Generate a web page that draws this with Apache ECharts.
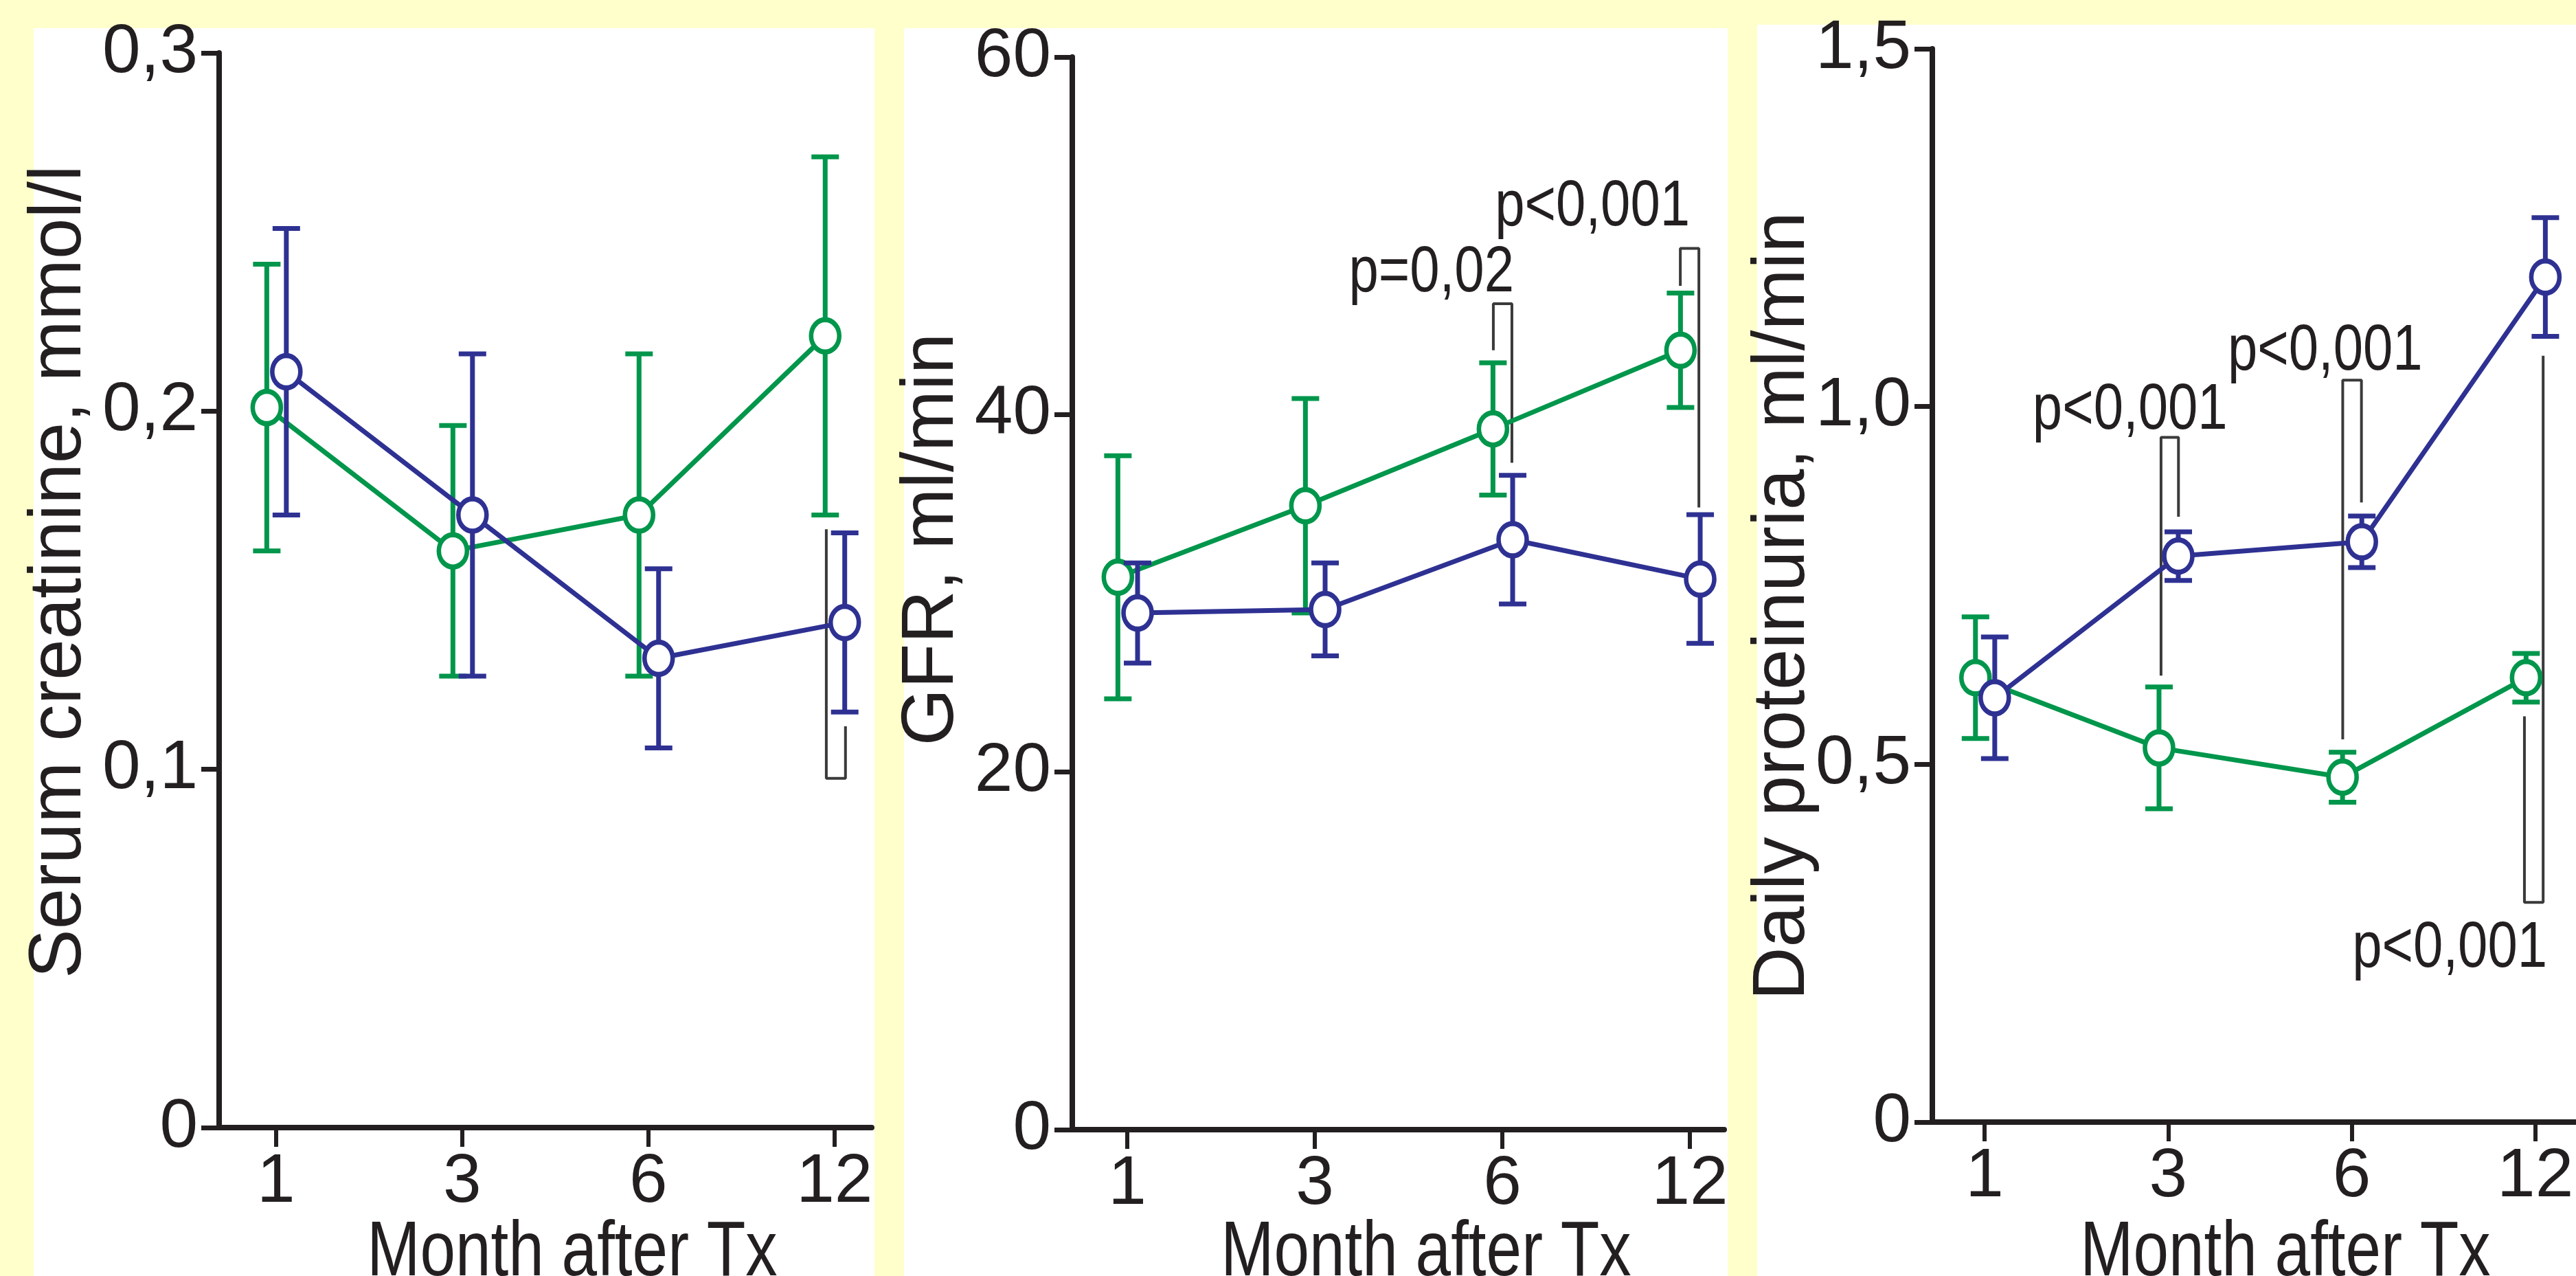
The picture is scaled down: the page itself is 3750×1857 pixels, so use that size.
<!DOCTYPE html>
<html><head><meta charset="utf-8">
<script src="https://cdn.jsdelivr.net/npm/echarts@6/dist/echarts.min.js"></script>
<style>html,body{margin:0;padding:0;background:#FFFFCC}#c{width:3750px;height:1857px}</style>
</head><body><div id="c"></div>
<script>
// ---------- data ----------
const months = ['1', '3', '6', '12'];
const monthIdx = [0, 1, 2, 3];

const creatGreen = [0.201, 0.161, 0.171, 0.221];
const creatGreenErr = [0.040, 0.035, 0.045, 0.050];
const creatBlue = [0.211, 0.171, 0.131, 0.141];
const creatBlueErr = [0.040, 0.045, 0.025, 0.025];

const gfrGreen = [30.9, 34.9, 39.2, 43.6];
const gfrGreenErr = [6.8, 6.0, 3.7, 3.2];
const gfrBlue = [28.9, 29.1, 33.0, 30.8];
const gfrBlueErr = [2.8, 2.6, 3.6, 3.6];

const protGreen = [0.621, 0.523, 0.482, 0.621];
const protGreenErr = [0.085, 0.085, 0.035, 0.034];
const protBlue = [0.593, 0.791, 0.811, 1.181];
const protBlueErr = [0.085, 0.034, 0.036, 0.083];

// significance brackets (x in month-index units, y in axis units)
const creatBracket = [[2.956, 0.167], [2.956, 0.0975], [3.059, 0.0975], [3.059, 0.112]];
const gfrBracket1 = [[1.952, 43.6], [1.952, 46.2], [2.051, 46.2], [2.051, 37.3]];
const gfrBracket2 = [[2.949, 47.2], [2.949, 49.3], [3.048, 49.3], [3.048, 34.8]];
const protBracket1 = [[0.961, 0.624], [0.961, 0.957], [1.056, 0.957], [1.056, 0.846]];
const protBracket2 = [[1.951, 0.535], [1.951, 1.037], [2.053, 1.037], [2.053, 0.866]];
const protBracket3 = [[2.941, 0.567], [2.941, 0.307], [3.043, 0.307], [3.043, 1.071]];

const gfrPTexts = ['p=0,02', 'p<0,001'];
const gfrPPos = [[2.062, 46.84], [3.0, 50.53]];
const protPTexts = ['p<0,001', 'p<0,001', 'p<0,001'];
const protPPos = [[1.323, 0.968], [2.386, 1.050], [3.065, 0.216]];

const yTitles = ['Serum creatinine, mmol/l', 'GFR, ml/min', 'Daily proteinuria, ml/min'];
const xTitle = 'Month after Tx';

// ---------- styles ----------
const GREEN = '#00964B', BLUE = '#2E3192', INK = '#231F20', BR = '#3A3A3A';
const SANS = '"Liberation Sans", Arial, sans-serif';

function fontAvailable(name) {
  const ctx = document.createElement('canvas').getContext('2d');
  const s = 'Month after Tx 0,123 p<0,001';
  ctx.font = '100px monospace'; const w1 = ctx.measureText(s).width;
  ctx.font = '100px "' + name + '", monospace'; const w2 = ctx.measureText(s).width;
  ctx.font = '100px serif'; const w3 = ctx.measureText(s).width;
  ctx.font = '100px "' + name + '", serif'; const w4 = ctx.measureText(s).width;
  return w1 !== w2 || w3 !== w4;
}
const HAS_NARROW = fontAvailable('Liberation Sans Narrow');
const NARROW = HAS_NARROW ? '"Liberation Sans Narrow", sans-serif' : SANS;
const SX = HAS_NARROW ? 1 : 0.82;           // horizontal condensing of free text
const TICK_FS = HAS_NARROW ? 114 : 100;      // tick-label font size

const GOFF = -0.05, BOFF = 0.055;
const chart = echarts.init(document.getElementById('c'), null, {renderer: 'canvas'});

function fmtDec(v) { return v === 0 ? '0' : v.toFixed(1).replace('.', ','); }

const grids = [
  {left: 319, top: 77, width: 950, height: 1564},
  {left: 1561, top: 83, width: 949, height: 1561},
  {left: 2813, top: 71, width: 960, height: 1562}
];
const xRanges = [[-0.306, 3.2], [-0.293, 3.183], [-0.285, 3.222]];
const yRanges = [[0, 0.3, 0.1, fmtDec], [0, 60, 20, v => String(v)], [0, 1.5, 0.5, fmtDec]];

const xAxes = xRanges.map((r, i) => ({
  type: 'value', gridIndex: i, min: r[0], max: r[1],
  axisLine: {show: true, onZero: false, lineStyle: {color: INK, width: 8}},
  axisTick: {show: true, customValues: monthIdx, length: 28, lineStyle: {color: INK, width: 6}},
  axisLabel: {show: true, customValues: monthIdx, formatter: v => months[Math.round(v)],
    fontSize: TICK_FS, fontFamily: NARROW, color: INK, margin: 30},
  splitLine: {show: false}
}));
const yAxes = yRanges.map((r, i) => ({
  type: 'value', gridIndex: i, min: r[0], max: r[1], interval: r[2],
  axisLine: {show: true, onZero: false, lineStyle: {color: INK, width: 8}},
  axisTick: {show: true, length: 26, lineStyle: {color: INK, width: 7}},
  axisLabel: {show: true, formatter: r[3], fontSize: TICK_FS, fontFamily: NARROW, color: INK, margin: 31},
  splitLine: {show: false}
}));

function errSeries(gi, vals, errs, off, color, z) {
  return {
    type: 'custom', xAxisIndex: gi, yAxisIndex: gi, z: z,
    data: vals.map((v, i) => [i + off, v - errs[i], v + errs[i]]),
    renderItem: function (params, api) {
      const x = api.value(0);
      const a = api.coord([x, api.value(1)]), b = api.coord([x, api.value(2)]);
      const w = 20, st = {stroke: color, lineWidth: 7};
      return {type: 'group', children: [
        {type: 'line', shape: {x1: a[0], y1: a[1], x2: b[0], y2: b[1]}, style: st},
        {type: 'line', shape: {x1: a[0] - w, y1: a[1], x2: a[0] + w, y2: a[1]}, style: st},
        {type: 'line', shape: {x1: b[0] - w, y1: b[1], x2: b[0] + w, y2: b[1]}, style: st}
      ]};
    }
  };
}
function lineSeries(gi, vals, off, color, z) {
  return {
    type: 'line', xAxisIndex: gi, yAxisIndex: gi, z: z,
    data: vals.map((v, i) => [i + off, v]),
    symbol: 'circle', symbolSize: [41, 47], showSymbol: true,
    itemStyle: {color: '#ffffff', borderColor: color, borderWidth: 7},
    lineStyle: {color: color, width: 7},
    emphasis: {disabled: true}
  };
}
function bracketSeries(gi, pts) {
  return {
    type: 'line', xAxisIndex: gi, yAxisIndex: gi, z: 1, data: pts,
    showSymbol: false, symbol: 'none', lineStyle: {color: BR, width: 4},
    emphasis: {disabled: true}
  };
}
function textSeries(gi, pos, texts) {
  return {
    type: 'custom', xAxisIndex: gi, yAxisIndex: gi, z: 5, data: pos,
    renderItem: function (params, api) {
      const p = api.coord([api.value(0), api.value(1)]);
      return {type: 'text', x: p[0], y: p[1] + 20, scaleX: SX, style: {
        text: texts[params.dataIndex], font: '95px ' + NARROW, fill: INK,
        align: 'right', verticalAlign: 'bottom'}};
    }
  };
}

const series = [
  errSeries(0, creatGreen, creatGreenErr, GOFF, GREEN, 2),
  lineSeries(0, creatGreen, GOFF, GREEN, 3),
  errSeries(0, creatBlue, creatBlueErr, BOFF, BLUE, 4),
  lineSeries(0, creatBlue, BOFF, BLUE, 5),
  bracketSeries(0, creatBracket),

  errSeries(1, gfrGreen, gfrGreenErr, GOFF, GREEN, 2),
  lineSeries(1, gfrGreen, GOFF, GREEN, 3),
  errSeries(1, gfrBlue, gfrBlueErr, BOFF, BLUE, 4),
  lineSeries(1, gfrBlue, BOFF, BLUE, 5),
  bracketSeries(1, gfrBracket1),
  bracketSeries(1, gfrBracket2),
  textSeries(1, gfrPPos, gfrPTexts),

  errSeries(2, protGreen, protGreenErr, GOFF, GREEN, 2),
  lineSeries(2, protGreen, GOFF, GREEN, 3),
  errSeries(2, protBlue, protBlueErr, BOFF, BLUE, 4),
  lineSeries(2, protBlue, BOFF, BLUE, 5),
  bracketSeries(2, protBracket1),
  bracketSeries(2, protBracket2),
  bracketSeries(2, protBracket3),
  textSeries(2, protPPos, protPTexts)
];

const panelRects = [[49, 41, 1224], [1316, 41, 1199], [2558, 36, 1192]];
const yTitlePos = [[87, 832], [1357, 785], [2596, 882]];
const xTitleCenters = [833, 2076, 3327];

const graphic = panelRects.map(r => ({
  type: 'rect', z: -10, silent: true,
  shape: {x: r[0], y: r[1], width: r[2], height: 1857 - r[1]},
  style: {fill: '#ffffff'}
})).concat(yTitles.map((t, i) => ({
  type: 'text', z: 10, x: yTitlePos[i][0], y: yTitlePos[i][1], rotation: Math.PI / 2,
  style: {text: t, font: '107px ' + SANS, fill: INK, align: 'center', verticalAlign: 'middle'}
}))).concat(xTitleCenters.map(cx => ({
  type: 'text', z: 10, x: cx, y: 1768, scaleX: SX,
  style: {text: xTitle, font: '113px ' + NARROW, fill: INK, align: 'center', verticalAlign: 'top'}
})));

chart.setOption({
  backgroundColor: '#FFFFCC',
  animation: false,
  grid: grids,
  xAxis: xAxes,
  yAxis: yAxes,
  series: series,
  graphic: graphic
});
</script></body></html>
